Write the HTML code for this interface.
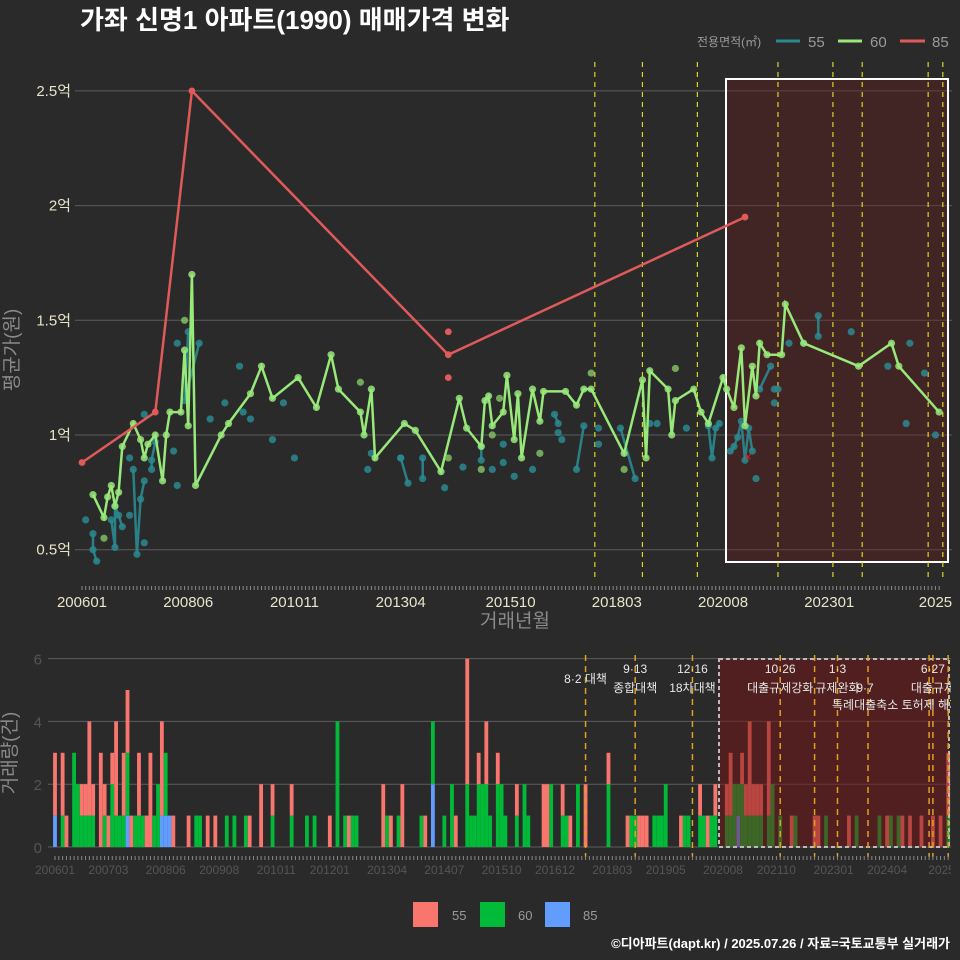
<!DOCTYPE html>
<html><head><meta charset="utf-8">
<style>
html,body{margin:0;padding:0;background:#2a2a2a;}
svg{display:block;font-family:"Liberation Sans","Noto Sans CJK KR",sans-serif;}
</style></head>
<body>
<svg id="chart" width="960" height="960" viewBox="0 0 960 960">
<defs><clipPath id="botClip"><rect x="0" y="640" width="951" height="240"/></clipPath></defs>
<rect width="960" height="960" fill="#2a2a2a"/>
<text x="80" y="29" fill="#ffffff" font-size="26" font-weight="bold">가좌 신명1 아파트(1990) 매매가격 변화</text>
<g>
<text x="697" y="46" fill="#9a9a9a" font-size="12">전용면적(㎡)</text>
<line x1="776" y1="41" x2="800" y2="41" stroke="#2a8a91" stroke-width="3"/>
<text x="808" y="47" fill="#9a9a9a" font-size="15">55</text>
<line x1="838" y1="41" x2="862" y2="41" stroke="#98e87a" stroke-width="3"/>
<text x="870" y="47" fill="#9a9a9a" font-size="15">60</text>
<line x1="900" y1="41" x2="925" y2="41" stroke="#e05a5a" stroke-width="3"/>
<text x="932" y="47" fill="#9a9a9a" font-size="15">85</text>
</g>
<text transform="translate(18,350) rotate(-90)" text-anchor="middle" fill="#8a8a8a" font-size="19">평균가(원)</text>
<text x="515" y="627" text-anchor="middle" fill="#8a8a8a" font-size="19">거래년월</text>
<text transform="translate(16,753) rotate(-90)" text-anchor="middle" fill="#8a8a8a" font-size="19">거래량(건)</text>
<g id="topPanel"></g>
<g id="botPanel" clip-path="url(#botClip)"></g>
<g>
<rect x="413" y="902" width="25" height="25" fill="#f8766d"/>
<text x="452" y="920" fill="#9a9a9a" font-size="13">55</text>
<rect x="480" y="902" width="25" height="25" fill="#00ba38"/>
<text x="518" y="920" fill="#9a9a9a" font-size="13">60</text>
<rect x="545" y="902" width="25" height="25" fill="#619cff"/>
<text x="583" y="920" fill="#9a9a9a" font-size="13">85</text>
</g>
<text x="950" y="948" text-anchor="end" fill="#ffffff" font-size="13" font-weight="bold">©디아파트(dapt.kr) / 2025.07.26 / 자료=국토교통부 실거래가</text>
</svg>
<script>
// ---- price data (months since 2006-01) ----
const m60 = [3,6,7,8,9,10,11,14,16,17,18,20,22,23,24,27,28,29,30,31,38,40,46,49,52,59,64,68,70,76,77,79,80,88,91,98,103,105,109,110,111,112,115,116,118,119,120,123,125,126,132,135,137,139,148,153,154,155,160,161,162,167,169,171,175,176,178,180,181,183,184,185,187,191,192,197,212,221,223,234];
const v60 = [0.74,0.64,0.73,0.78,0.69,0.75,0.95,1.05,0.98,0.90,0.96,1.0,0.80,1.0,1.1,1.1,1.37,1.04,1.70,0.78,1.0,1.05,1.18,1.30,1.16,1.25,1.12,1.35,1.20,1.10,1.0,1.20,0.90,1.05,1.02,0.84,1.16,1.03,0.95,1.15,1.17,1.04,1.10,1.26,0.98,1.18,0.90,1.20,1.06,1.19,1.19,1.13,1.20,1.20,0.92,1.24,0.90,1.28,1.20,1.0,1.15,1.20,1.10,1.05,1.25,1.20,1.12,1.38,1.04,1.30,1.17,1.40,1.35,1.35,1.57,1.40,1.30,1.40,1.30,1.10];
const m60dots = [6,28,76,139,162,114,125,109,148,100,112];
const v60dots = [0.55,1.50,1.23,1.27,1.29,1.16,0.92,0.85,0.85,0.90,1.0];
const m55 = [1,3,3,4,8,9,9,10,11,13,13,14,15,16,17,17,17,19,19,20,25,26,26,29,28,32,35,39,43,44,46,52,55,58,78,79,87,89,87,93,93,99,104,109,109,112,115,115,118,123,129,130,130,131,135,137,141,141,147,151,155,157,165,171,172,173,174,177,178,179,180,181,182,183,184,185,188,189,189,190,193,197,201,201,210,220,226,225,230,233];
const v55 = [0.63,0.57,0.50,0.45,0.63,0.51,0.69,0.65,0.60,0.90,0.65,0.85,0.48,0.72,0.80,0.53,1.09,0.85,0.89,0.97,0.93,0.78,1.40,1.45,1.15,1.40,1.07,1.14,1.30,1.10,1.07,0.98,1.14,0.90,0.85,0.92,0.90,0.79,0.90,0.81,0.90,0.77,0.86,0.95,0.89,0.85,0.96,0.88,0.82,0.85,1.09,1.05,1.01,0.98,0.85,1.04,1.03,0.96,1.03,0.81,1.05,1.05,1.03,1.04,0.90,1.03,1.05,0.93,0.95,0.99,1.06,0.89,1.03,0.93,0.81,1.20,1.30,1.14,1.20,1.20,1.40,1.40,1.52,1.43,1.45,1.30,1.40,1.05,1.27,1.0];
const c55 = [0,0,1,1,0,1,1,1,1,0,0,0,1,1,1,0,0,0,1,1,0,0,0,0,1,1,0,0,0,0,0,0,0,0,0,0,0,1,0,0,1,0,0,0,1,0,0,0,0,0,0,1,0,0,0,1,0,0,0,1,0,0,0,0,1,1,1,0,1,1,1,1,1,1,0,0,1,0,0,0,0,0,0,1,0,0,0,0,0,0];
const m85 = [0,20,30,100,181];
const v85 = [0.88,1.10,2.50,1.35,1.95];
const m85dots = [100,100];
const v85dots = [1.45,1.25];
const topTickLabels = ["200601","200806","201011","201304","201510","201803","202008","202301","2025"];
const topTickMonths = [0,29,58,87,117,146,175,204,233];
const yTickVals = [0.5,1,1.5,2,2.5];
const yTickLabels = ["0.5억","1억","1.5억","2억","2.5억"];
const policyTop = [140,153,168,190,205,213,231,235];
// ---- volume data ----
const barMonths = [0,2,3,5,6,7,8,9,10,12,13,14,15,16,17,18,19,20,21,22,23,24,25,26,27,28,29,30,31,35,37,38,40,42,45,47,50,51,54,57,62,66,68,72,74,76,77,78,79,86,87,88,90,91,96,97,99,102,104,105,108,109,110,111,112,113,114,116,117,118,121,123,124,128,129,130,133,134,135,137,139,145,150,151,152,153,154,155,157,158,159,160,164,165,166,169,170,171,172,173,176,177,178,179,180,181,182,183,184,185,187,188,190,193,194,199,200,202,208,210,216,218,219,221,222,224,227,230,232,234];
const cnt55 = [2,2,1,0,0,1,1,3,1,3,1,1,1,3,0,2,2,1,0,2,0,1,3,0,0,3,0,0,1,1,0,0,1,1,0,0,0,1,2,1,1,0,0,1,0,0,1,0,0,2,0,1,0,2,0,1,0,0,0,1,4,0,0,1,0,2,0,1,0,0,1,0,0,2,2,0,1,0,1,0,2,1,1,0,0,1,1,1,0,0,0,0,1,0,0,1,0,1,0,1,1,2,0,0,1,1,3,1,1,1,3,0,0,1,0,1,1,0,1,0,0,1,0,0,1,1,1,1,1,2];
const cnt60 = [0,1,0,3,2,1,1,1,1,0,1,0,2,1,1,1,2,0,1,1,1,0,0,1,2,0,2,0,0,0,1,1,0,0,1,1,1,0,0,1,1,1,1,0,4,1,0,1,1,0,1,0,1,0,1,0,2,1,2,0,2,1,1,2,2,2,1,2,2,1,1,2,1,0,0,2,1,1,0,2,0,2,0,1,1,0,0,0,1,1,1,2,0,1,1,1,1,0,1,1,1,1,2,1,2,1,1,1,1,1,1,2,1,0,1,0,0,1,0,1,1,0,1,1,0,0,0,0,0,1];
const cnt85 = [1,0,0,0,0,0,0,0,0,0,0,0,0,0,0,0,1,0,0,0,0,0,0,0,0,1,1,1,0,0,0,0,0,0,0,0,0,0,0,0,0,0,0,0,0,0,0,0,0,0,0,0,0,0,0,0,2,0,0,0,0,0,0,0,0,0,0,0,0,0,0,0,0,0,0,0,0,0,0,0,0,0,0,0,0,0,0,0,0,0,0,0,0,0,0,0,0,0,0,0,0,0,0,1,0,0,0,0,0,0,0,0,0,0,0,0,0,0,0,0,0,0,0,0,0,0,0,0,0,0];
const botTickLabels = ["200601","200703","200806","200908","201011","201201","201304","201407","201510","201612","201803","201905","202008","202110","202301","202404","202507"];
const botTickMonths = [0,14,29,43,58,72,87,102,117,131,146,160,175,189,204,218,234];
const volTicks = [0,2,4,6];
const policyBot = [139,152,167,190,199,205,213,229,230,234];
const policyText = [
 {m:139,l1:"",l2:"8·2 대책"},
 {m:152,l1:"9·13",l2:"종합대책"},
 {m:167,l1:"12·16",l2:"18차대책"},
 {m:190,l1:"10·26",l2:"대출규제강화"},
 {m:205,l1:"1·3",l2:"규제완화"},
 {m:230,l1:"6·27",l2:"대출규제"}
];

const NS="http://www.w3.org/2000/svg";
function mk(parent,tag,attrs){const e=document.createElementNS(NS,tag);for(const k in attrs)e.setAttribute(k,attrs[k]);parent.appendChild(e);return e;}
const topG=document.getElementById('topPanel'), botG=document.getElementById('botPanel');
const TX0=82, TXS=3.663, TL=75, TR=952, TT=62, TB=580;
const tx=m=>TX0+m*TXS;
const ty=v=>435-(v-1)*229.4;
yTickVals.forEach((v,i)=>{
 const g=mk(topG,'line',{x1:TL,x2:TR,y1:ty(v),y2:ty(v),stroke:'#5c5c5c','stroke-width':1});
 
 
 const t=mk(topG,'text',{x:71,y:ty(v)+5,'text-anchor':'end',fill:'#e8e4c9','font-size':15});
 t.textContent=yTickLabels[i];
 
 
});
const hr=mk(topG,'rect',{x:726,y:79,width:222,height:483,fill:'rgba(110,25,25,0.35)',stroke:'#ffffff','stroke-width':2});


policyTop.forEach(m=>{
 const l=mk(topG,'line',{x1:tx(m),x2:tx(m),y1:TT,y2:TB,stroke:'#d8d820','stroke-width':1.2,'stroke-dasharray':'5,5'});
 
 
});
for(let m=0;m<=234;m++){
 const l=mk(topG,'line',{x1:tx(m),x2:tx(m),y1:586,y2:590,stroke:'#8a8a8a','stroke-width':1});
 
 
}
topTickMonths.forEach((m,i)=>{
 const t=mk(topG,'text',{x:tx(m),y:607,'text-anchor':'middle',fill:'#e8e4c9','font-size':15});
 t.textContent=topTickLabels[i];
 
 
});
let d='';
m55.forEach((m,i)=>{d+=(c55[i]&&i>0?'L':'M')+tx(m).toFixed(1)+','+ty(v55[i]).toFixed(1);});
const p55=mk(topG,'path',{d:d,fill:'none',stroke:'#2a8a91','stroke-width':2.5,opacity:0.9});


m55.forEach((m,i)=>{
 const c=mk(topG,'circle',{cx:tx(m),cy:ty(v55[i]),r:3.6,fill:'#2a8a91',opacity:0.85});
 
 
});
const p60=mk(topG,'polyline',{points:m60.map((m,i)=>tx(m).toFixed(1)+','+ty(v60[i]).toFixed(1)).join(' '),fill:'none',stroke:'#98e87a','stroke-width':2.5});


m60.forEach((m,i)=>{
 const c=mk(topG,'circle',{cx:tx(m),cy:ty(v60[i]),r:3.6,fill:'#98e87a',opacity:0.85});
 
 
});
m60dots.forEach((m,i)=>{
 const c=mk(topG,'circle',{cx:tx(m),cy:ty(v60dots[i]),r:3.6,fill:'#86c866',opacity:0.8});
 
 
});
const p85=mk(topG,'polyline',{points:m85.map((m,i)=>tx(m).toFixed(1)+','+ty(v85[i]).toFixed(1)).join(' '),fill:'none',stroke:'#e05a5a','stroke-width':2.5});


m85.forEach((m,i)=>{
 const c=mk(topG,'circle',{cx:tx(m),cy:ty(v85[i]),r:3.4,fill:'#e05a5a'});
 
 
});
m85dots.forEach((m,i)=>{
 const c=mk(topG,'circle',{cx:tx(m),cy:ty(v85dots[i]),r:3.4,fill:'#e05a5a'});
 
 
});
const xm=mk(topG,'text',{x:748,y:461,'text-anchor':'middle',fill:'#e02020','font-size':13});
xm.textContent='×';



const BX0=55, BXS=3.817, BL=48, BR=952;
const bx=m=>BX0+m*BXS;
const by=v=>847-v*31.4;
volTicks.forEach(v=>{
 const g=mk(botG,'line',{x1:BL,x2:BR,y1:by(v),y2:by(v),stroke:'#5c5c5c','stroke-width':1});
 
 
 const t=mk(botG,'text',{x:42,y:by(v)+6,'text-anchor':'end',fill:'#555555','font-size':15});
 t.textContent=String(v);
 
 
});
const bw=BXS;
barMonths.forEach((m,i)=>{
 let base=0;
 [[cnt85[i]||0,'#619cff','bar-85'],[cnt60[i]||0,'#00ba38','bar-60'],[cnt55[i]||0,'#f8766d','bar-55']].forEach(s=>{
  if(s[0]>0){
   const r=mk(botG,'rect',{x:bx(m)-bw/2,y:by(base+s[0]),width:bw,height:s[0]*31.4,fill:s[1]});
   
   
   base+=s[0];
  }
 });
});
const br=mk(botG,'rect',{x:719,y:659,width:230,height:188,fill:'rgba(120,20,20,0.5)',stroke:'#bbbbbb','stroke-width':2,'stroke-dasharray':'4,3'});


policyBot.forEach(m=>{
 const l=mk(botG,'line',{x1:bx(m),x2:bx(m),y1:655,y2:857,stroke:'#e0a020','stroke-width':1.5,'stroke-dasharray':'6,5'});
 
 
});
policyText.forEach(p=>{
 const x=bx(p.m);
 if(p.l1){const t=mk(botG,'text',{x:x,y:673,'text-anchor':'middle',fill:'#e8e8e8','font-size':12});t.textContent=p.l1;
 
 }
 const t2=mk(botG,'text',{x:x,y:p.l1?692:683,'text-anchor':'middle',fill:'#e8e8e8','font-size':12});t2.textContent=p.l2;
 
 
});
const e1=mk(botG,'text',{x:865,y:692,'text-anchor':'middle',fill:'#e8e8e8','font-size':12});e1.textContent='9·7';


const e2=mk(botG,'text',{x:832,y:709,fill:'#e8e8e8','font-size':12});e2.textContent='특례대출축소 토허제 해제';


for(let m=0;m<=234;m++){
 const l=mk(botG,'line',{x1:bx(m),x2:bx(m),y1:856,y2:860,stroke:'#8a8a8a','stroke-width':1});
 
 
}
botTickMonths.forEach((m,i)=>{
 const t=mk(botG,'text',{x:bx(m),y:874,'text-anchor':'middle',fill:'#555555','font-size':12});
 t.textContent=botTickLabels[i];
 
 
});
</script>
</body></html>
